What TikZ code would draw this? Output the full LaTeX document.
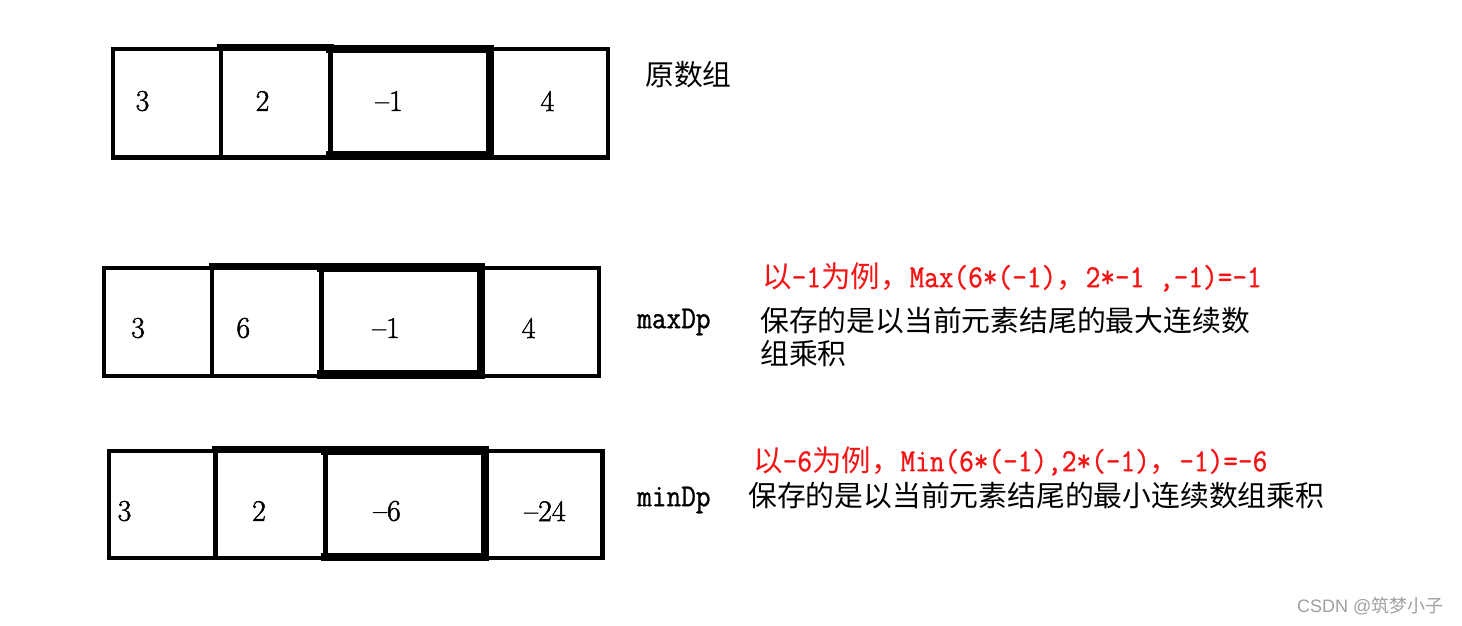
\documentclass[tikz,border=0pt]{standalone}
\usepackage{fontspec}
\newfontfamily\cjk{Noto Sans CJK SC}
\newfontfamily\monof[FakeBold=1,FakeStretch=0.89]{Latin Modern Mono}
\newfontfamily\numfont[FakeBold=1.5]{Latin Modern Roman}
\newfontfamily\wmfont{Liberation Sans}
\definecolor{wmgray}{RGB}{160,160,160}
\definecolor{redtxt}{RGB}{245,20,20}
\tikzset{
  cell/.style={draw, line width=4.5pt, rectangle, inner sep=0pt, outer sep=0pt},
  topband/.style={line width=6.8pt, line cap=rect},
  boldbox/.style={line width=8.8pt, line cap=rect, line join=miter},
  num/.style={inner sep=0pt, font=\fontsize{30}{36}\selectfont\numfont},
  lbl/.style={inner sep=0pt, anchor=west},
  note/.style={inner sep=0pt, anchor=west, font=\fontsize{28.8}{34}\selectfont\cjk},
  rnote/.style={inner sep=0pt, anchor=west, text=redtxt, font=\fontsize{29.5}{34}\selectfont\cjk},
}
\newcommand{\mm}[1]{{\fontsize{32}{36}\selectfont\monof #1}}
\begin{document}
\begin{tikzpicture}[x=1pt,y=-1pt]
\useasboundingbox[fill=white] (0,0) rectangle (1462,626);

% ---- array 1 (original) ----
\node[cell, minimum width=107.8pt, minimum height=108.5pt] (a1) at (166.9,103.25) {};
\node[cell, minimum width=109.7pt, minimum height=108.5pt] (a2) at (275.65,103.25) {};
\node[cell, minimum width=159.5pt, minimum height=108.5pt] (a3) at (410.25,103.25) {};
\node[cell, minimum width=118pt, minimum height=108.5pt] (a4) at (549,103.25) {};
\draw[topband] ([yshift=1.2pt]a2.north west) -- ([yshift=1.2pt]a2.north east);
\draw[boldbox] (a3.north west) -- (a3.north east) -- ([yshift=2pt]a3.south east) -- ([yshift=2pt]a3.south west);
\node[num] (n11) at (142.5,101) {3};
\node[num] (n12) at (262.5,101) {2};
\node[num] (n13) at (389,101) {–1};
\node[num] (n14) at (547.5,101) {4};

% ---- array 2 (maxDp) ----
\node[cell, minimum width=108pt, minimum height=108pt] (b1) at (158,322) {};
\node[cell, minimum width=109.5pt, minimum height=108pt] (b2) at (266.75,322) {};
\node[cell, minimum width=159.5pt, minimum height=108pt] (b3) at (401.25,322) {};
\node[cell, minimum width=118pt, minimum height=108pt] (b4) at (540,322) {};
\draw[topband] ([yshift=1.5pt]b2.north west) -- ([yshift=1.5pt]b2.north east);
\draw[boldbox] ([yshift=0.7pt]b3.north west) -- ([yshift=0.7pt]b3.north east) -- ([yshift=1.5pt]b3.south east) -- ([yshift=1.5pt]b3.south west);
\node[num] (n21) at (138,328) {3};
\node[num] (n22) at (243.3,328) {6};
\node[num] (n23) at (386,328) {–1};
\node[num] (n24) at (528.7,328) {4};

% ---- array 3 (minDp) ----
\node[cell, minimum width=106.5pt, minimum height=107pt] (c1) at (162.25,504.5) {};
\node[cell, minimum width=110pt, minimum height=107pt] (c2) at (270.5,504.5) {};
\node[cell, minimum width=159.5pt, minimum height=107pt] (c3) at (405.25,504.5) {};
\node[cell, minimum width=117.5pt, minimum height=107pt] (c4) at (543.75,504.5) {};
\draw[topband] ([yshift=1.7pt]c2.north west) -- ([yshift=1.7pt]c2.north east);
\draw[boldbox] ([yshift=0.5pt]c3.north west) -- ([yshift=0.5pt]c3.north east) -- ([yshift=1pt]c3.south east) -- ([yshift=1pt]c3.south west);
\node[num] (n31) at (124.5,511) {3};
\node[num] (n32) at (259,511) {2};
\node[num] (n33) at (387,511) {–6};
\node[num] (n34) at (545,511) {–24};

% ---- labels ----
\node[note] (lorig) at (645,75) {原数组};
\node[lbl, font=\fontsize{32}{36}\selectfont\monof] (lmax) at (637,322) {maxDp};
\node[lbl, font=\fontsize{32}{36}\selectfont\monof] (lmin) at (637,500) {minDp};

\node[rnote] (r1) at (762,277) {以\mm{-1}为例，\mm{Max(6*(-1)}，\mm{2*-1 ,-1)=-1}};
\node[note] (k1) at (760,321) {保存的是以当前元素结尾的最大连续数};
\node[note] (k2) at (760,354) {组乘积};

\node[rnote] (r2) at (753,461) {以\mm{-6}为例，\mm{Min(6*(-1),2*(-1)}，\mm{-1)=-6}};
\node[note] (k3) at (748,496) {保存的是以当前元素结尾的最小连续数组乘积};

\node[lbl, text=wmgray, font=\fontsize{18}{20}\selectfont] (wm) at (1297,606) {\wmfont CSDN @\cjk 筑梦小子};
\end{tikzpicture}
\end{document}
